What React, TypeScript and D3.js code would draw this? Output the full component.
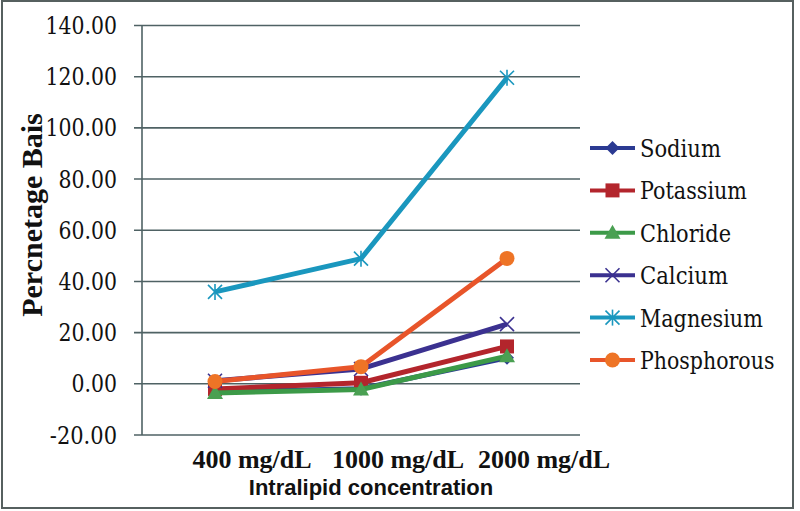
import React, { useLayoutEffect, useRef, useState } from "react";
import * as d3 from "d3";

const categories = ["400 mg/dL", "1000 mg/dL", "2000 mg/dL"];
const seriesNames = ["Sodium", "Potassium", "Chloride", "Calcium", "Magnesium", "Phosphorous"];
const sodium = [-3.2, -1.9, 10.2];
const potassium = [-2.0, 0.4, 14.6];
const chloride = [-3.6, -2.2, 10.8];
const calcium = [1.2, 5.8, 23.3];
const magnesium = [35.9, 48.9, 119.6];
const phosphorous = [0.9, 6.7, 49.0];
const yTicks = [-20, 0, 20, 40, 60, 80, 100, 120, 140];

const seriesValues = [sodium, potassium, chloride, calcium, magnesium, phosphorous];
const colors = ["#2b3a92", "#b3252c", "#3c9a48", "#3b3190", "#1a97be", "#e8552a"];
const markerFill = ["#2b3a92", "#b3252c", "#4aa052", "#3b3190", "#1a97be", "#ee7426"];
const markers = ["diamond", "square", "triangle", "x", "star", "circle"];

const W = 800, H = 511;
const left = 142, right = 580, top = 25.5, bottom = 435;
const REG_SERIF = "'DejaVu Serif', serif";
const SERIF = "'Liberation Serif', 'Times New Roman', Times, serif";
const SANS = "'Liberation Sans', Arial, sans-serif";

// Times-like advance widths (em) used to size regular serif text
const timesW: Record<string, number> = {
  "0": 0.5, "1": 0.5, "2": 0.5, "3": 0.5, "4": 0.5, "5": 0.5, "6": 0.5, "7": 0.5, "8": 0.5, "9": 0.5,
  ".": 0.25, "-": 0.333, S: 0.556, P: 0.556, C: 0.667, M: 0.889,
  o: 0.5, d: 0.5, i: 0.278, u: 0.5, m: 0.778, t: 0.278, a: 0.444, s: 0.389, h: 0.5, l: 0.278,
  r: 0.333, e: 0.444, c: 0.444, g: 0.5, n: 0.5, p: 0.5,
};
const timesWidth = (s: string, size: number) =>
  s.split("").reduce((acc, ch) => acc + (timesW[ch] ?? 0.5), 0) * size;

function FitText({ x, y, text, width, anchor, size }: { x: number; y: number; text: string; width: number; anchor: "start" | "end"; size: number }) {
  const ref = useRef<SVGTextElement>(null);
  const [s, setS] = useState(0.8);
  useLayoutEffect(() => {
    if (ref.current) {
      const w = ref.current.getComputedTextLength();
      if (w > 0) setS(width / w);
    }
  }, [text, width]);
  return (
    <g transform={`translate(${x},${y}) scale(${s},1)`}>
      <text ref={ref} x={0} y={0} textAnchor={anchor} style={{ fontFamily: REG_SERIF, fontSize: size }} fill="#111">
        {text}
      </text>
    </g>
  );
}

function Marker({ type, x, y, color, fill }: { type: string; x: number; y: number; color: string; fill: string }) {
  if (type === "diamond") {
    const s = 7;
    return <path d={`M${x},${y - s}L${x + s},${y}L${x},${y + s}L${x - s},${y}Z`} fill={fill} />;
  }
  if (type === "square") {
    return <rect x={x - 7} y={y - 7} width={14} height={14} fill={fill} />;
  }
  if (type === "triangle") {
    return <path d={`M${x},${y - 8}L${x + 8},${y + 6}L${x - 8},${y + 6}Z`} fill={fill} />;
  }
  if (type === "x") {
    const s = 7;
    return (
      <g stroke={color} strokeWidth={1.6}>
        <line x1={x - s} y1={y - s} x2={x + s} y2={y + s} />
        <line x1={x - s} y1={y + s} x2={x + s} y2={y - s} />
      </g>
    );
  }
  if (type === "star") {
    const s = 7;
    return (
      <g stroke={color} strokeWidth={1.6}>
        <line x1={x - s} y1={y - s} x2={x + s} y2={y + s} />
        <line x1={x - s} y1={y + s} x2={x + s} y2={y - s} />
        <line x1={x} y1={y - s - 1} x2={x} y2={y + s + 1} />
      </g>
    );
  }
  return <circle cx={x} cy={y} r={7.5} fill={fill} />;
}

export default function App() {
  const x = d3.scaleBand<string>().domain(categories).range([left, right]);
  const y = d3.scaleLinear().domain([-20, 140]).range([bottom, top]);
  const cx = (c: string) => (x(c) as number) + x.bandwidth() / 2;
  const line = d3
    .line<number>()
    .x((_, i) => cx(categories[i]))
    .y((v) => y(v));
  const fmt = d3.format(".2f");

  return (
    <svg width={W} height={H} style={{ position: "absolute", left: 0, top: 0, display: "block", background: "#fff" }}>
      <rect x={2} y={1} width={791} height={507} fill="#fff" stroke="#56605f" strokeWidth={2} />
      {yTicks.map((t) => {
        const label = t < 0 ? "-" + fmt(-t) : fmt(t);
        return (
          <g key={t}>
            <line x1={left - 8} x2={right} y1={y(t)} y2={y(t)} stroke="#4f6264" strokeWidth={1.6} />
            <FitText x={117} y={y(t) + 8.5} text={label} width={timesWidth(label, 26)} anchor="end" size={25} />
          </g>
        );
      })}
      <line x1={left} x2={left} y1={top} y2={bottom} stroke="#4f6264" strokeWidth={1.6} />
      {seriesValues.map((vals, si) => (
        <g key={seriesNames[si]}>
          <path d={line(vals) || ""} fill="none" stroke={colors[si]} strokeWidth={5} strokeLinejoin="round" />
          {vals.map((v, i) => (
            <Marker key={i} type={markers[si]} x={cx(categories[i])} y={y(v)} color={colors[si]} fill={markerFill[si]} />
          ))}
        </g>
      ))}
      {categories.map((c) => (
        <text key={c} x={cx(c) + 37} y={468} textAnchor="middle" style={{ fontFamily: SERIF, fontSize: 26, fontWeight: "bold" }} fill="#111">
          {c}
        </text>
      ))}
      <text x={371} y={495} textAnchor="middle" style={{ fontFamily: SANS, fontSize: 22, fontWeight: "bold" }} fill="#111">
        Intralipid concentration
      </text>
      <text transform="translate(42,215) rotate(-90)" textAnchor="middle" style={{ fontFamily: SERIF, fontSize: 30, fontWeight: "bold" }} fill="#111">
        Percnetage Bais
      </text>
      {seriesNames.map((n, si) => {
        const ly = 148 + si * 42.4;
        return (
          <g key={n}>
            <line x1={590} x2={635} y1={ly} y2={ly} stroke={colors[si]} strokeWidth={4} />
            <Marker type={markers[si]} x={612.5} y={ly} color={colors[si]} fill={markerFill[si]} />
            <FitText x={640} y={ly + 9} text={n} width={timesWidth(n, 26)} anchor="start" size={25} />
          </g>
        );
      })}
    </svg>
  );
}
